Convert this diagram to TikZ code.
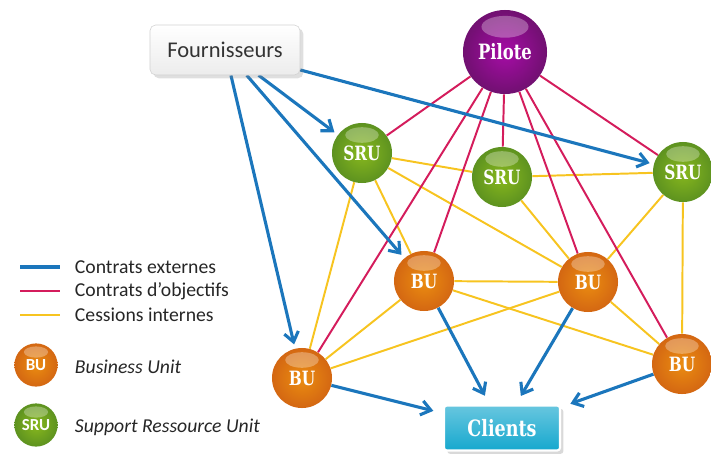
\documentclass[tikz,border=0pt]{standalone}
\usepackage{fontspec}
\setmainfont{Carlito}
\newfontfamily\slabfont[FakeStretch=0.78]{DejaVu Serif}
\usetikzlibrary{arrows.meta,backgrounds,shadows}
\definecolor{extblue}{RGB}{27,118,188}
\definecolor{objred}{RGB}{212,28,92}
\definecolor{cesyel}{RGB}{247,196,32}
\definecolor{buorange}{RGB}{230,112,20}
\definecolor{srugreen}{RGB}{106,166,36}
\definecolor{pilpurple}{RGB}{128,18,128}
\definecolor{clicyan}{RGB}{22,168,206}

\begin{document}
\begin{tikzpicture}[x=0.025cm,y=-0.025cm,
  gloss/.style={path picture={\fill[white,opacity=.3] ([yshift=-#1*.2cm]path picture bounding box.north) ellipse ({#1*.28cm} and {#1*.13cm});}},
  unit/.style={circle,text=white,inner sep=0pt,minimum size=1.5cm,gloss=1.5,font=\slabfont\bfseries\fontsize{14}{14}\selectfont},
  bu/.style={unit,inner color=buorange!80!yellow,outer color=buorange!92!black},
  sru/.style={unit,inner color=srugreen!80!yellow,outer color=srugreen!88!black},
  externe/.style={extblue,line width=2.2pt,-{Straight Barb[length=2.4mm,width=3.6mm]},shorten >=3pt},
  objectif/.style={objred,line width=1.4pt},
  cession/.style={cesyel,line width=1.4pt},
  legtext/.style={anchor=west,text=black!85,font=\fontsize{14}{15}\selectfont}]
\useasboundingbox (0,0) rectangle (711,454);
\node[draw=gray!35,top color=white,bottom color=gray!15,rounded corners=4pt,drop shadow={opacity=.25},minimum width=3.75cm,minimum height=1.25cm,text=black!80,font=\fontsize{16}{18}\selectfont] (four) at (225,50) {Fournisseurs};
\node[unit,minimum size=2.1cm,gloss=2.1,inner color=pilpurple!70!magenta,outer color=pilpurple!88!black,font=\slabfont\bfseries\fontsize{15}{15}\selectfont] (pil) at (505,52) {Pilote};
\node[sru] (sru1) at (362,153) {SRU};
\node[sru] (sru2) at (502,177) {SRU};
\node[sru] (sru3) at (683,172) {SRU};
\node[bu] (bu1) at (424,281) {BU};
\node[bu] (bu2) at (588,282) {BU};
\node[bu] (bu3) at (302,378) {BU};
\node[bu] (bu4) at (682,364) {BU};
\node[draw=white,line width=1.5pt,top color=clicyan!65!white,bottom color=clicyan,rounded corners=2pt,drop shadow={opacity=.3},minimum width=2.9cm,minimum height=1.125cm,text=white,font=\slabfont\bfseries\fontsize{16}{16}\selectfont] (cli) at (502,428) {Clients};
\begin{pgfonlayer}{background}
\foreach \a/\b in {sru1/sru2,sru2/sru3,sru1/bu3,sru1/bu1,sru1/bu2,sru2/bu2,sru3/bu2,sru3/bu4,bu1/bu2,bu1/bu3,bu1/bu4,bu2/bu3,bu2/bu4}
  \draw[cession] (\a) -- (\b);
\foreach \b in {sru1,bu3,bu1,sru2,bu2,bu4,sru3}
  \draw[objectif] (pil) -- (\b);
\foreach \b in {sru1,bu1,bu3,sru3}
  \draw[externe] (four) -- (\b);
\foreach \a in {bu1,bu2,bu3,bu4}
  \draw[externe,shorten >=7pt] (\a) -- (cli);
\end{pgfonlayer}
\draw[extblue,line width=2.4pt] (20,267) -- (60,267);
\draw[objectif,line width=1.8pt] (20,291) -- (60,291);
\draw[cession,line width=1.8pt] (20,315) -- (60,315);
\node[legtext] (lg1) at (70,267) {Contrats externes};
\node[legtext] (lg2) at (70,291) {Contrats d’objectifs};
\node[legtext] (lg3) at (70,315) {Cessions internes};
\node[bu,minimum size=1.08cm,gloss=1.08,font=\bfseries\fontsize{12}{12}\selectfont] (lgbu) at (36,365) {BU};
\node[legtext,font=\itshape\fontsize{14}{15}\selectfont] (lg4) at (70,367) {Business Unit};
\node[sru,minimum size=1.08cm,gloss=1.08,font=\bfseries\fontsize{12}{12}\selectfont] (lgsru) at (36,425) {SRU};
\node[legtext,font=\itshape\fontsize{14}{15}\selectfont] (lg5) at (70,427) {Support Ressource Unit};
\end{tikzpicture}
\end{document}
